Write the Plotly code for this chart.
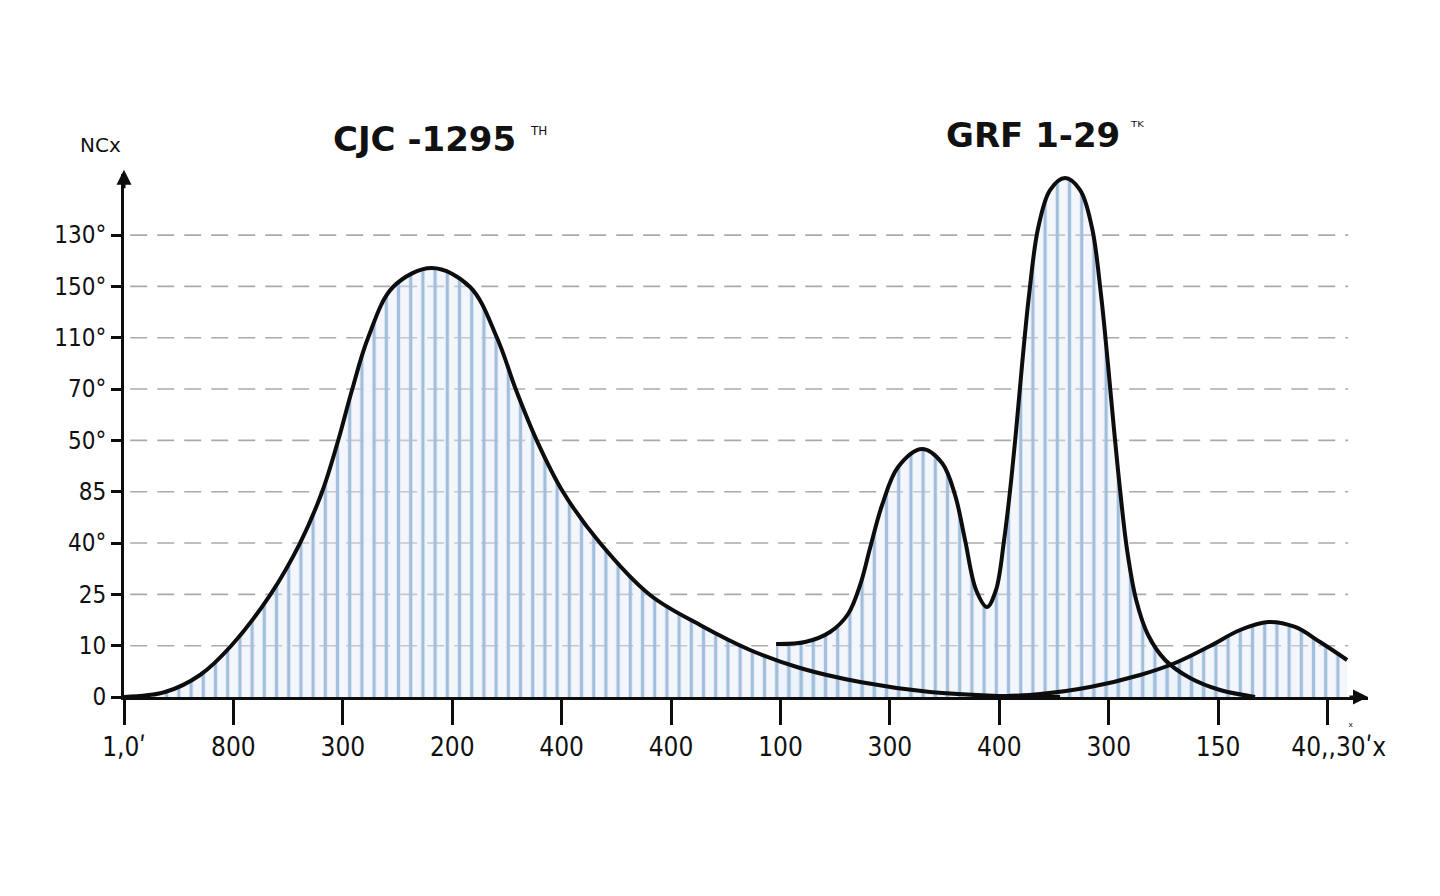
import plotly.graph_objects as go

# ---- data ----
x_tick_vals = list(range(12))
x_tick_text = ["1,0ʹ", "800", "300", "200", "400", "400", "100", "300", "400", "300", "150",
               "\u00a0\u00a0\u00a040,,30ʹx"]
y_tick_vals = list(range(10))
y_tick_text = ["0", "10", "25", "40°", "85", "50°", "70°", "110°", "150°", "130°"]

cjc_x = [0, 0.375, 0.695, 0.978, 1.335, 1.609, 1.81, 1.956, 2.084, 2.23, 2.459, 2.815,
         3.163, 3.41, 3.583, 3.775, 4.013, 4.351, 4.808, 5.265, 5.722, 6.179, 6.728,
         7.367, 8.007, 8.556]
cjc_y = [0, 0.097, 0.429, 0.994, 1.987, 3.0, 3.994, 4.987, 5.981, 6.994, 7.988, 8.358,
         7.988, 6.994, 5.981, 4.987, 3.994, 3.0, 1.987, 1.403, 0.916, 0.565, 0.292,
         0.097, 0.019, 0.0]

grf_x = [5.96, 6.225, 6.453, 6.618, 6.728, 6.819, 6.929, 7.075, 7.294, 7.477, 7.596, 7.687,
         7.788, 7.888, 7.97, 8.044, 8.099, 8.154, 8.208, 8.272, 8.355, 8.464, 8.601, 8.739,
         8.848, 8.93, 8.994, 9.049, 9.104, 9.168, 9.251, 9.36, 9.516, 9.744, 10.018, 10.338]
grf_y = [1.033, 1.071, 1.266, 1.617, 2.182, 2.903, 3.741, 4.481, 4.831, 4.559, 3.935, 3.059,
         2.085, 1.753, 2.085, 3.059, 4.033, 5.202, 6.468, 7.832, 9.137, 9.877, 10.111, 9.877,
         9.137, 7.832, 6.468, 5.202, 4.033, 2.864, 1.89, 1.208, 0.721, 0.37, 0.136, 0.0]

tail_x = [7.879, 8.373, 8.83, 9.287, 9.607, 9.927, 10.201, 10.457, 10.704, 10.932, 11.179]
tail_y = [0.0, 0.058, 0.195, 0.429, 0.662, 0.994, 1.305, 1.461, 1.364, 1.071, 0.721]

curves = [(cjc_x, cjc_y), (grf_x, grf_y), (tail_x, tail_y)]

# ---- styling ----
stripe = dict(shape="|", size=12.2, solidity=0.27, fgcolor="#a2bedd",
              bgcolor="rgba(228,237,248,0.45)", fillmode="replace")
ink = "#0d0d0d"

fig = go.Figure()
# striped fills first
for xs, ys in curves:
    fig.add_trace(go.Scatter(x=xs, y=ys, mode="lines", fill="tozeroy", fillpattern=stripe,
                             line=dict(width=0, shape="spline", smoothing=1.0),
                             hoverinfo="skip", showlegend=False))
# outlines on top
for xs, ys in curves:
    fig.add_trace(go.Scatter(x=xs, y=ys, mode="lines",
                             line=dict(color=ink, width=4, shape="spline", smoothing=1.0),
                             cliponaxis=False, hoverinfo="skip", showlegend=False))

# dashed grid lines
for v in y_tick_vals[1:]:
    fig.add_shape(type="line", xref="paper", yref="y", x0=0.005, x1=0.984, y0=v, y1=v,
                  line=dict(color="#aaaaaa", width=1.6, dash="17px,10px"), layer="below")

xr = [0, 11.37]
yr = [0, 10.19]

fig.update_layout(
    width=1440, height=896,
    margin=dict(l=124, r=72, t=174, b=199),
    paper_bgcolor="white", plot_bgcolor="white",
    showlegend=False,
    font=dict(family="DejaVu Sans, sans-serif", color="#111111"),
    xaxis=dict(range=xr, tickmode="array", tickvals=x_tick_vals, ticktext=x_tick_text,
               showgrid=False, zeroline=False, showline=True, linecolor=ink,
               linewidth=3, ticks="outside", ticklen=25, tickwidth=2.5, tickcolor=ink,
               tickfont=dict(family="DejaVu Sans Condensed, sans-serif",
                             size=26, color="#111111")),
    yaxis=dict(range=yr, tickmode="array", tickvals=y_tick_vals, ticktext=y_tick_text,
               showgrid=False, zeroline=False, showline=True, linecolor=ink,
               linewidth=3, ticks="outside", ticklen=10, tickwidth=3, tickcolor=ink,
               tickfont=dict(family="DejaVu Sans Condensed, DejaVu Sans, sans-serif",
                             size=24, color="#111111")),
)

# axis arrows
fig.add_annotation(x=0, y=1.008, xref="paper", yref="paper", ax=0, ay=20, text="",
                   showarrow=True, arrowhead=2, arrowsize=1, arrowwidth=3, arrowcolor=ink)
fig.add_annotation(x=1.0, y=0, xref="paper", yref="paper", ax=-20, ay=0, text="",
                   showarrow=True, arrowhead=2, arrowsize=1, arrowwidth=3, arrowcolor=ink)


def label(x, y, text, size, family="DejaVu Sans, sans-serif"):
    fig.add_annotation(x=x, y=y, xref="paper", yref="paper", text=text, showarrow=False,
                       xanchor="center", yanchor="middle",
                       font=dict(family=family, size=size, color="#111"))


# titles
label(0.2415, 1.066, "<b>CJC -1295</b>", 34)
label(0.3335, 1.082, "TH", 12)
label(0.7305, 1.0755, "<b>GRF 1-29</b>", 34)
label(0.8145, 1.09, "ᵀᴷ", 16)
label(-0.0185, 1.0555, "NCx", 20)
label(0.986, -0.057, "ˣ", 12)

fig.write_html("out.html")
